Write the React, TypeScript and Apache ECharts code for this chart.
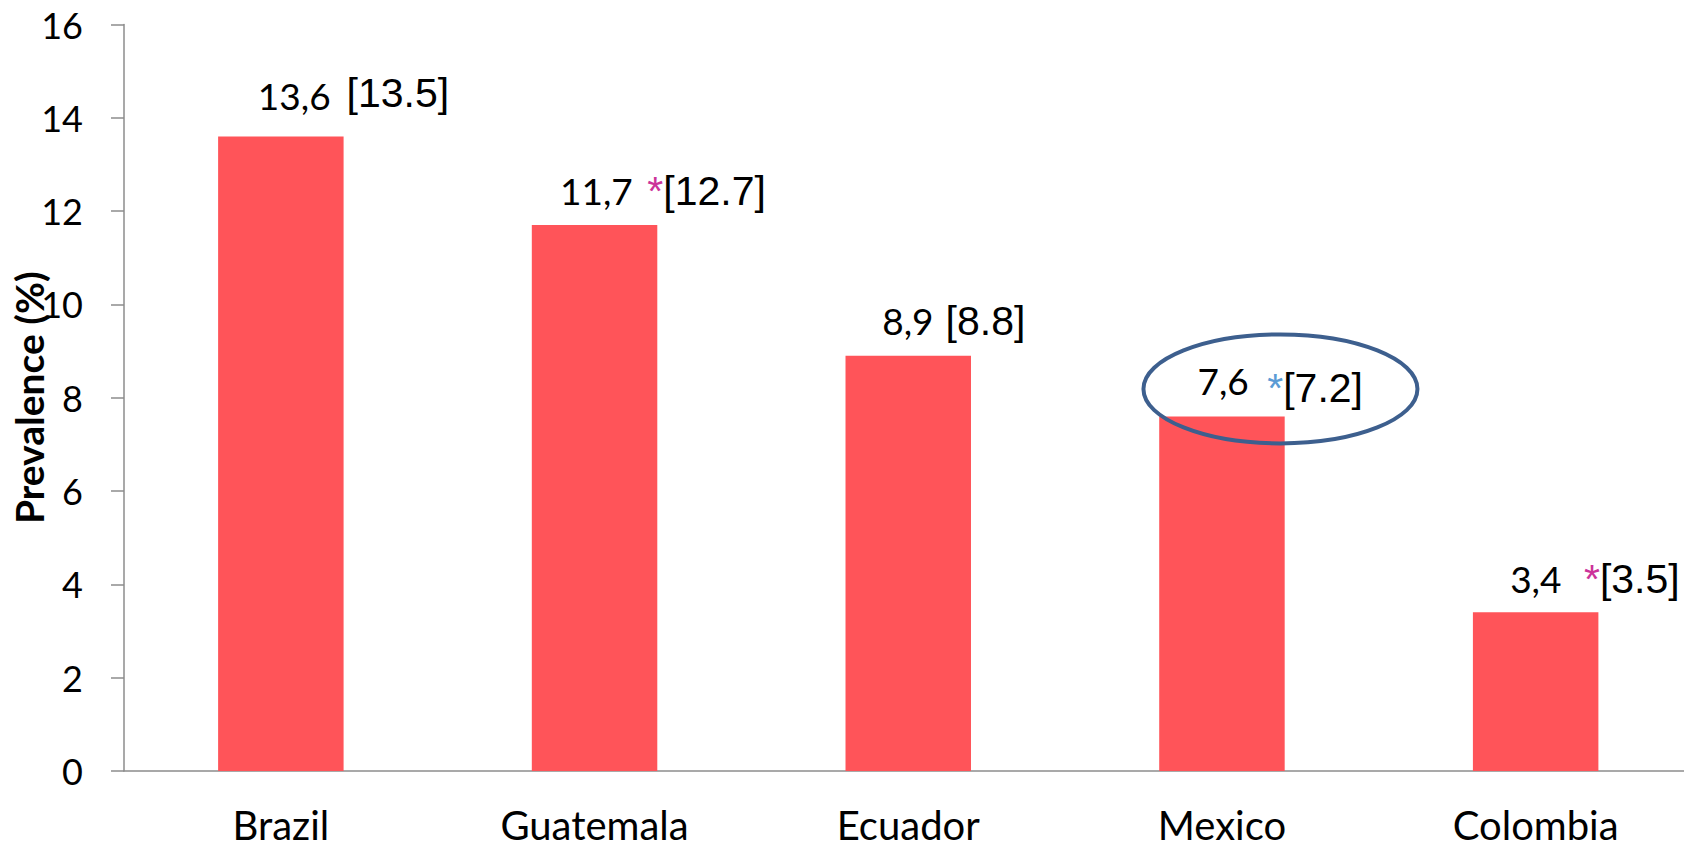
import React, { useEffect, useRef } from "react";
import * as echarts from "echarts";

const CATEGORIES = ["Brazil", "Guatemala", "Ecuador", "Mexico", "Colombia"];
const PREVALENCE = [13.6, 11.7, 8.9, 7.6, 3.4];
const PREVALENCE_TEXT = ["13,6", "11,7", "8,9", "7,6", "3,4"];
const BRACKET_VALUES = ["13.5", "12.7", "8.8", "7.2", "3.5"];
// asterisk marker per country: "" none, "pink", "blue"
const ASTERISK = ["", "pink", "", "blue", "pink"];
const Y_MIN = 0;
const Y_MAX = 16;
const Y_STEP = 2;
const HIGHLIGHT_INDEX = 3;

// label layout (presentation only)
const LABEL_DX = [-23, -34.5, -26, -24.5, -25.5];
const LABEL_DY = [-22.5, -14, -14.5, -8, -13];
const LABEL_GAP = [16, 14.5, 12, 18.5, 22.5];
const BRACKET_DROP = [0, 2, 2, 9, 2];

const BAR_COLOR = "#FF5459";
const PINK = "#CC3399";
const BLUE = "#5B9BD5";

export default function App() {
  const ref = useRef<HTMLDivElement>(null);
  useEffect(() => {
    if (!ref.current) return;
    const chart = echarts.init(ref.current, undefined, { renderer: "svg" });
    const data = PREVALENCE.map((v, i) => {
      const mark = ASTERISK[i];
      const hasMark = mark !== "";
      const formatter = hasMark
        ? `{n|${PREVALENCE_TEXT[i]}}{a|*}{b|[${BRACKET_VALUES[i]}]}`
        : `{n|${PREVALENCE_TEXT[i]}}{b|[${BRACKET_VALUES[i]}]}`;
      return {
        value: v,
        label: {
          offset: [LABEL_DX[i], LABEL_DY[i]],
          formatter,
          rich: {
            n: {
              fontFamily: "Lato",
              fontSize: 37,
              color: "#000",
              lineHeight: 44,
              verticalAlign: "bottom",
              padding: [0, 0, BRACKET_DROP[i], 0],
            },
            a: {
              fontFamily: "Liberation Sans",
              fontSize: 41,
              lineHeight: 44,
              verticalAlign: "bottom",
              color: mark === "pink" ? PINK : BLUE,
              padding: [0, 0, 0, LABEL_GAP[i]],
            },
            b: {
              fontFamily: "Liberation Sans",
              fontSize: 41,
              color: "#000",
              lineHeight: 44,
              verticalAlign: "bottom",
              padding: [0, 0, 0, hasMark ? 0 : LABEL_GAP[i]],
            },
          },
        },
      };
    });
    chart.setOption({
      animation: false,
      backgroundColor: "#fff",
      grid: { left: 124, right: -8.5, top: 24.5, bottom: 71, containLabel: false, outerBoundsMode: "none" },
      xAxis: {
        type: "category",
        data: CATEGORIES,
        axisLine: { show: true, lineStyle: { color: "#8C8C8C", width: 1.5 } },
        axisTick: { show: false },
        axisLabel: { fontFamily: "Lato", fontSize: 40, color: "#000", margin: 34 },
      },
      yAxis: {
        type: "value",
        min: Y_MIN,
        max: Y_MAX,
        interval: Y_STEP,
        name: "Prevalence (%)",
        nameLocation: "middle",
        nameGap: 76,
        nameMoveOverlap: false,
        nameTextStyle: { fontFamily: "Lato", fontWeight: "bold", fontSize: 39, color: "#000" },
        axisLine: { show: true, lineStyle: { color: "#8C8C8C", width: 1.5 } },
        axisTick: { show: true, inside: false, length: 13, lineStyle: { color: "#8C8C8C", width: 1.5 } },
        splitLine: { show: false },
        axisLabel: { fontFamily: "Lato", fontSize: 36, color: "#000", margin: 41 },
      },
      series: [
        {
          type: "bar",
          data,
          barWidth: "40%",
          itemStyle: { color: BAR_COLOR },
          label: { show: true, position: "top", distance: 0, align: "left" },
        },
      ],
    });
    const p = chart.convertToPixel({ seriesIndex: 0 }, [HIGHLIGHT_INDEX, PREVALENCE[HIGHLIGHT_INDEX]]) as number[];
    chart.setOption({
      graphic: [
        {
          type: "ellipse",
          shape: { cx: p[0] + 58.5, cy: p[1] - 27.5, rx: 137, ry: 54.5 },
          style: { fill: "none", stroke: "#3D5F8E", lineWidth: 4 },
          z: 100,
        },
      ],
    });
    return () => chart.dispose();
  }, []);
  return <div ref={ref} style={{ position: "absolute", left: 0, top: 0, width: 1684, height: 842 }} />;
}
